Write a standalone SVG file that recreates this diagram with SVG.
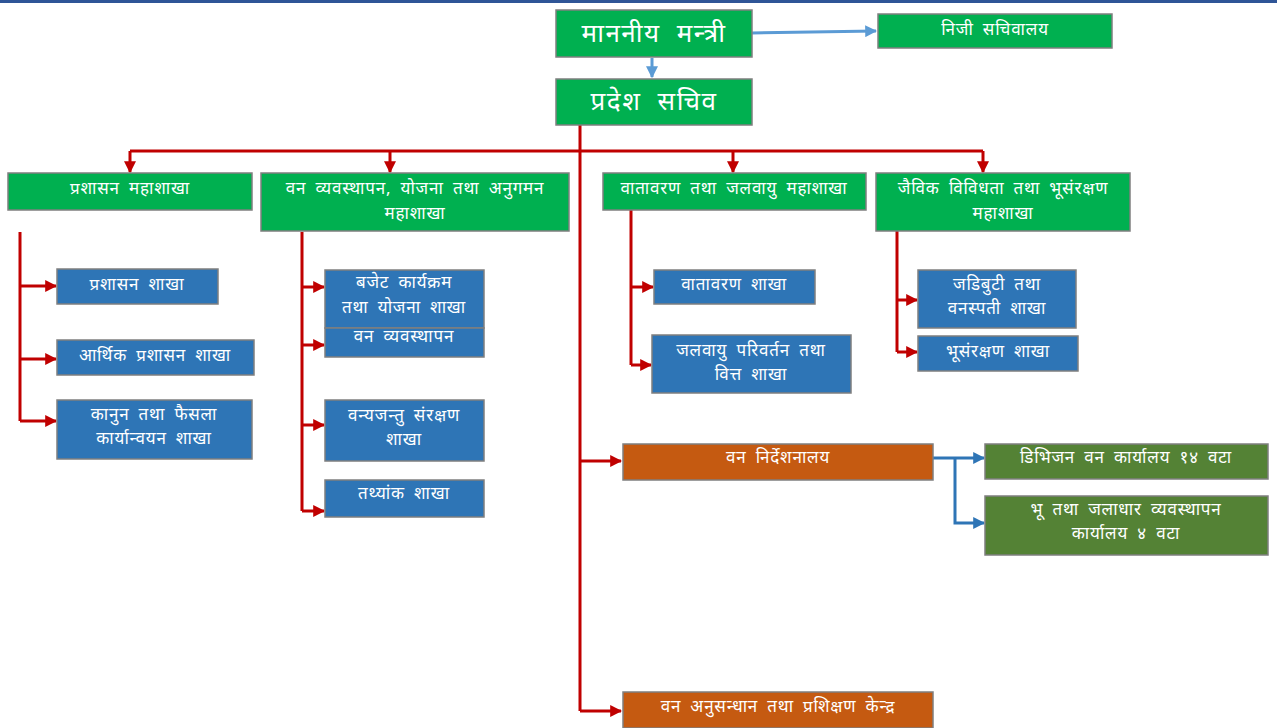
<svg xmlns="http://www.w3.org/2000/svg" width="1277" height="728" viewBox="0 0 1277 728">
<defs>
<style>
.g{fill:#00b050;stroke:#7f7f7f;stroke-width:1.5}
.b{fill:#2e75b6;stroke:#7f7f7f;stroke-width:1.5}
.o{fill:#c55a11;stroke:#7f7f7f;stroke-width:1.5}
.d{fill:#548235;stroke:#7f7f7f;stroke-width:1.5}
text{fill:#fff;font-family:"Noto Sans","DejaVu Sans",sans-serif;text-anchor:middle;font-size:17px;letter-spacing:0.8px;word-spacing:4px}
.big{font-size:26px;letter-spacing:1.5px;word-spacing:8px}
.r{stroke:#c00000;stroke-width:3;fill:none}
.bl{stroke:#5b9bd5;stroke-width:3;fill:none}
.bd{stroke:#2e75b6;stroke-width:3;fill:none}
</style>
<marker id="ar" viewBox="0 0 10 10" refX="9" refY="5" markerWidth="4" markerHeight="4" orient="auto" markerUnits="strokeWidth"><path d="M0,0 L10,5 L0,10 z" fill="#c00000"/></marker>
<marker id="ab" viewBox="0 0 10 10" refX="9" refY="5" markerWidth="4" markerHeight="4" orient="auto" markerUnits="strokeWidth"><path d="M0,0 L10,5 L0,10 z" fill="#5b9bd5"/></marker>
<marker id="ad" viewBox="0 0 10 10" refX="9" refY="5" markerWidth="4" markerHeight="4" orient="auto" markerUnits="strokeWidth"><path d="M0,0 L10,5 L0,10 z" fill="#2e75b6"/></marker>
</defs>
<rect x="0" y="0" width="1277" height="728" fill="#fff"/>
<rect x="0" y="0" width="1277" height="3" fill="#2f5597"/>
<g id="connectors">
<path class="bl" d="M752,33 L876,31" marker-end="url(#ab)"/>
<path class="bl" d="M652,58 L652,77" marker-end="url(#ab)"/>
<path class="r" d="M580,125 L580,711"/>
<path class="r" d="M130,151 L983,151"/>
<path class="r" d="M130,151 L130,172" marker-end="url(#ar)"/>
<path class="r" d="M390,151 L390,172" marker-end="url(#ar)"/>
<path class="r" d="M733,151 L733,172" marker-end="url(#ar)"/>
<path class="r" d="M983,151 L983,172" marker-end="url(#ar)"/>
<path class="r" d="M20,232 L20,421"/>
<path class="r" d="M20,286 L56,286" marker-end="url(#ar)"/>
<path class="r" d="M20,359 L56,359" marker-end="url(#ar)"/>
<path class="r" d="M20,421 L56,421" marker-end="url(#ar)"/>
<path class="r" d="M302,232 L302,511"/>
<path class="r" d="M302,287 L324,287" marker-end="url(#ar)"/>
<path class="r" d="M302,345 L324,345" marker-end="url(#ar)"/>
<path class="r" d="M302,425 L324,425" marker-end="url(#ar)"/>
<path class="r" d="M302,511 L324,511" marker-end="url(#ar)"/>
<path class="r" d="M631,210 L631,365"/>
<path class="r" d="M631,287 L653,287" marker-end="url(#ar)"/>
<path class="r" d="M631,365 L651,365" marker-end="url(#ar)"/>
<path class="r" d="M897,210 L897,352"/>
<path class="r" d="M897,300 L917,300" marker-end="url(#ar)"/>
<path class="r" d="M897,352 L917,352" marker-end="url(#ar)"/>
<path class="r" d="M580,461 L621,461" marker-end="url(#ar)"/>
<path class="r" d="M580,711 L621,711" marker-end="url(#ar)"/>
<path class="bd" d="M933,458 L984,458" marker-end="url(#ad)"/>
<path class="bd" d="M955,458 L955,523 L984,523" marker-end="url(#ad)"/>
</g>
<g id="n1"><rect class="g" x="556" y="10" width="196" height="47"/><text class="big" x="654" y="42">माननीय मन्त्री</text></g>
<g id="n2"><rect class="g" x="878" y="14" width="234" height="34"/><text x="995" y="35">निजी सचिवालय</text></g>
<g id="n3"><rect class="g" x="556" y="79" width="196" height="46"/><text class="big" x="654" y="110">प्रदेश सचिव</text></g>
<g id="n4"><rect class="g" x="8" y="173" width="244" height="37"/><text x="130" y="194">प्रशासन महाशाखा</text></g>
<g id="n5"><rect class="g" x="261" y="173" width="308" height="58"/><text x="415" y="194">वन व्यवस्थापन, योजना तथा अनुगमन</text><text x="415" y="219">महाशाखा</text></g>
<g id="n6"><rect class="g" x="603" y="173" width="263" height="37"/><text x="734" y="194">वातावरण तथा जलवायु महाशाखा</text></g>
<g id="n7"><rect class="g" x="876" y="173" width="254" height="58"/><text x="1003" y="194">जैविक विविधता तथा भूसंरक्षण</text><text x="1003" y="219">महाशाखा</text></g>
<g id="n8"><rect class="b" x="57" y="269" width="161" height="35"/><text x="137" y="290">प्रशासन शाखा</text></g>
<g id="n9"><rect class="b" x="57" y="340" width="197" height="35"/><text x="155" y="361">आर्थिक प्रशासन शाखा</text></g>
<g id="n10"><rect class="b" x="57" y="400" width="195" height="59"/><text x="154" y="420">कानुन तथा फैसला</text><text x="154" y="444">कार्यान्वयन शाखा</text></g>
<g id="n11"><rect class="b" x="325" y="270" width="159" height="58"/><text x="404" y="288">बजेट कार्यक्रम</text><text x="404" y="313">तथा योजना शाखा</text></g>
<g id="n12"><rect class="b" x="325" y="328" width="159" height="29"/><text x="404" y="342">वन व्यवस्थापन</text></g>
<g id="n13"><rect class="b" x="325" y="400" width="159" height="61"/><text x="404" y="421">वन्यजन्तु संरक्षण</text><text x="404" y="445">शाखा</text></g>
<g id="n14"><rect class="b" x="325" y="480" width="159" height="37"/><text x="404" y="499">तथ्यांक शाखा</text></g>
<g id="n15"><rect class="b" x="654" y="270" width="161" height="34"/><text x="734" y="290">वातावरण शाखा</text></g>
<g id="n16"><rect class="b" x="652" y="335" width="199" height="58"/><text x="751" y="356">जलवायु परिवर्तन तथा</text><text x="751" y="380">वित्त शाखा</text></g>
<g id="n17"><rect class="b" x="918" y="270" width="158" height="58"/><text x="997" y="290">जडिबुटी तथा</text><text x="997" y="314">वनस्पती शाखा</text></g>
<g id="n18"><rect class="b" x="918" y="336" width="160" height="35"/><text x="998" y="357">भूसंरक्षण शाखा</text></g>
<g id="n19"><rect class="o" x="623" y="444" width="310" height="36"/><text x="778" y="463">वन निर्देशनालय</text></g>
<g id="n20"><rect class="d" x="985" y="444" width="283" height="35"/><text x="1126" y="463">डिभिजन वन कार्यालय १४ वटा</text></g>
<g id="n21"><rect class="d" x="985" y="496" width="283" height="59"/><text x="1126" y="515">भू तथा जलाधार व्यवस्थापन</text><text x="1126" y="539">कार्यालय ४ वटा</text></g>
<g id="n22"><rect class="o" x="623" y="692" width="310" height="36"/><text x="778" y="712">वन अनुसन्धान तथा प्रशिक्षण केन्द्र</text></g>
</svg>
